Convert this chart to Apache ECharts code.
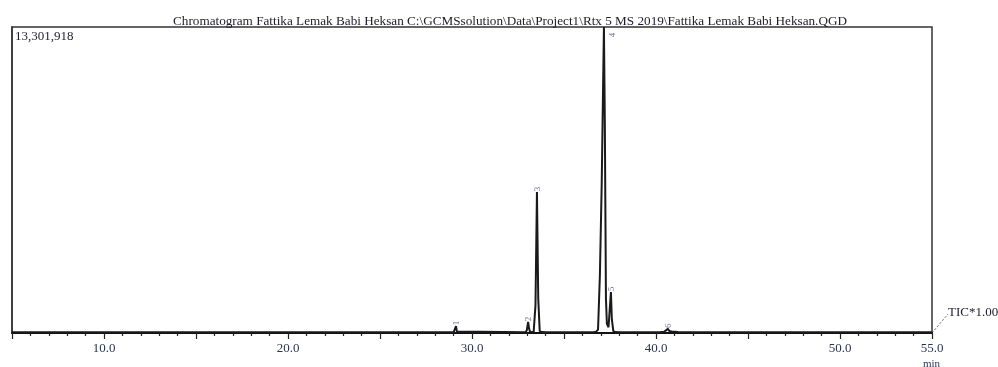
<!DOCTYPE html>
<html>
<head>
<meta charset="utf-8">
<script src="https://cdn.jsdelivr.net/npm/echarts@6/dist/echarts.min.js"></script>
<style>
html,body{margin:0;padding:0;background:#fff;}
#chart{width:998px;height:367px;}
</style>
</head>
<body>
<div id="chart"></div>
<script>
// Retention time (min) and TIC intensity
var retentionTimes = [
  5.0, 5.2, 5.3, 5.4, 6.0, 6.1, 6.2,
  29.0, 29.08, 29.13, 29.18, 29.25,
  32.9, 32.98, 33.05, 33.1, 33.15, 33.35, 33.45, 33.53, 33.6, 33.68, 33.8, 34.0,
  35.0, 35.05, 35.1, 35.45, 35.5, 35.55,
  36.6, 36.75, 36.85, 36.95, 37.05, 37.12, 37.17, 37.22, 37.28, 37.33, 37.42, 37.5, 37.55, 37.6, 37.68, 37.8, 38.0,
  40.1, 40.18, 40.25, 40.45, 40.55, 40.65, 40.72, 40.85, 40.95, 41.2,
  41.9, 41.97, 42.05, 43.4, 43.5, 43.6, 44.9, 45.0, 45.1, 55.0
];
var intensity = [
  30000, 30000, 90000, 30000, 30000, 80000, 30000,
  30000, 60000, 300000, 60000, 30000,
  30000, 120000, 480000, 200000, 60000, 40000, 1200000, 6130000, 1500000, 80000, 40000, 30000,
  30000, 90000, 30000, 30000, 90000, 30000,
  30000, 60000, 150000, 2500000, 6500000, 10500000, 13301918, 9000000, 1500000, 400000, 250000, 1200000, 1780000, 600000, 80000, 40000, 30000,
  30000, 80000, 40000, 60000, 100000, 180000, 90000, 70000, 50000, 40000,
  35000, 80000, 35000, 30000, 65000, 30000, 30000, 60000, 30000, 30000
];
var peakLabels = ['1', '2', '3', '4', '5', '6'];
var peakTimes = [29.13, 33.05, 33.53, 37.17, 37.55, 40.65];
var peakHeights = [300000, 480000, 6130000, 13301918, 1780000, 180000];
var xTickLabels = {10: '10.0', 20: '20.0', 30: '30.0', 40: '40.0', 50: '50.0', 55: '55.0'};
var maxIntensity = 13301918;
var titleText = 'Chromatogram Fattika Lemak Babi Heksan C:\\GCMSsolution\\Data\\Project1\\Rtx 5 MS 2019\\Fattika Lemak Babi Heksan.QGD';

var traceData = retentionTimes.map(function (t, i) { return [t, intensity[i]]; });
var peakData = peakTimes.map(function (t, i) {
  var item = { value: [t, peakHeights[i]], name: peakLabels[i] };
  if (peakHeights[i] >= maxIntensity) {
    item.label = { offset: [-11, 13] };
  }
  return item;
});

var serif = 'Liberation Serif';
var chart = echarts.init(document.getElementById('chart'));
chart.setOption({
  animation: false,
  backgroundColor: '#fff',
  title: {
    text: titleText,
    left: 505,
    textAlign: 'center',
    top: 10,
    textStyle: { fontFamily: serif, fontSize: 13.2, fontWeight: 'normal', color: '#1c1c2c' }
  },
  grid: {
    left: 12, right: 66, top: 27, bottom: 34,
    show: true, borderColor: '#333', borderWidth: 1.5, backgroundColor: 'transparent'
  },
  xAxis: {
    type: 'value',
    min: 5, max: 55, interval: 5,
    axisLine: { show: true, lineStyle: { color: '#111', width: 2 } },
    axisTick: { show: true, length: 6, inside: false, lineStyle: { color: '#222', width: 1.2 } },
    minorTick: { show: true, splitNumber: 5, length: 3, lineStyle: { color: '#222', width: 1.2 } },
    splitLine: { show: false },
    axisLabel: {
      fontFamily: serif, fontSize: 13, color: '#2b3550', margin: 9,
      formatter: function (v) { return xTickLabels[v] || ''; }
    }
  },
  yAxis: {
    type: 'value',
    min: 0, max: maxIntensity,
    axisLine: { show: true, lineStyle: { color: '#333', width: 1.5 } },
    axisTick: { show: false },
    axisLabel: { show: false },
    splitLine: { show: false }
  },
  series: [
    {
      type: 'line',
      data: traceData,
      symbol: 'none',
      lineStyle: { color: '#1a1a1a', width: 2 },
      clip: false,
      z: 3
    },
    {
      type: 'scatter',
      data: peakData,
      symbolSize: 0,
      clip: false,
      label: {
        show: true, position: 'top', distance: 3, offset: [0, 5],
        formatter: function (p) { return p.name; },
        fontFamily: serif, fontSize: 9, color: '#3a4a6a', rotate: 90
      },
      z: 4
    }
  ],
  graphic: [
    {
      type: 'text', left: 15, top: 30,
      style: { text: '13,301,918', font: '13px "Liberation Serif"', fill: '#1c1c2c' }
    },
    {
      type: 'line',
      shape: { x1: 932, y1: 333, x2: 948, y2: 314 },
      style: { stroke: '#333', lineWidth: 0.8, lineDash: [2, 2] }
    },
    {
      type: 'text', left: 948, top: 306,
      style: { text: 'TIC*1.00', font: '13px "Liberation Serif"', fill: '#1c1c2c' }
    },
    {
      type: 'text', left: 923, top: 359,
      style: { text: 'min', font: '11px "Liberation Serif"', fill: '#2b3550' }
    }
  ]
});
</script>
</body>
</html>
